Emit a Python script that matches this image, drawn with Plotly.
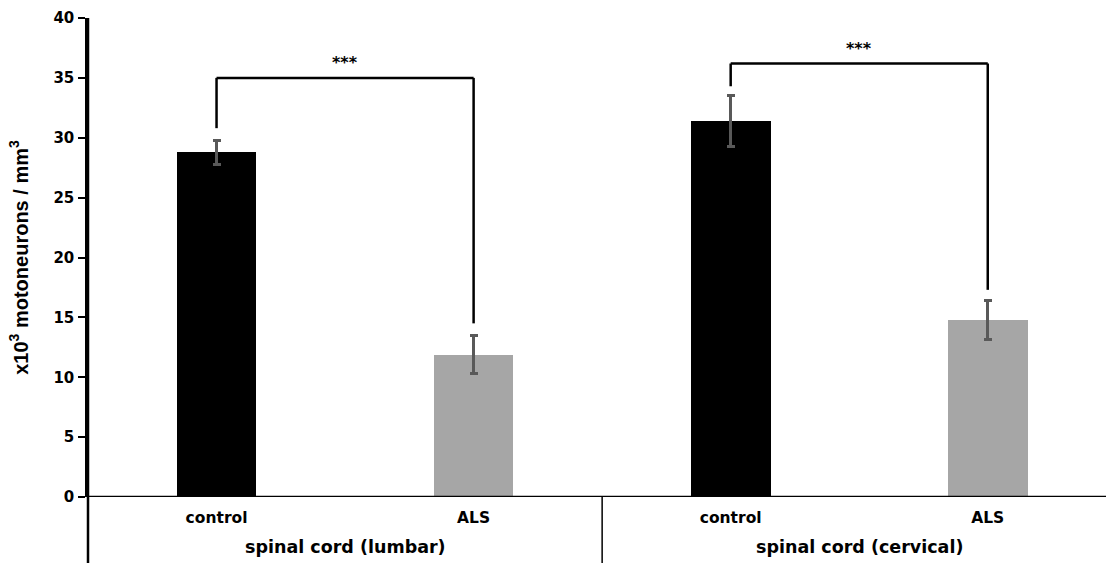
import plotly.graph_objects as go

categories = ["control", "ALS", "control", "ALS"]
groups = ["spinal cord (lumbar)", "spinal cord (cervical)"]
values = [28.8, 11.9, 31.4, 14.8]
errors = [1.0, 1.6, 2.1, 1.65]
bar_colors = ["#000000", "#a6a6a6", "#000000", "#a6a6a6"]
y_ticks = [0, 5, 10, 15, 20, 25, 30, 35, 40]

# significance brackets: (x_left, x_right, y_top, y_left_end, y_right_end, label)
brackets = [
    (0, 1, 35.0, 30.8, 14.5, "***"),
    (2, 3, 36.2, 34.3, 17.3, "***"),
]

W, H = 1106, 563
ml, mr, mt, mb = 88, 0, 18, 66
plot_h = H - mt - mb
below = mb / plot_h

FONT_H = "DejaVu Sans, sans-serif"
FONT_V = "Arial, Liberation Sans, sans-serif"

xpos = list(range(len(categories)))
fig = go.Figure()
fig.add_trace(go.Bar(
    x=xpos, y=values, width=0.31,
    marker=dict(color=bar_colors, line=dict(width=0)),
    error_y=dict(type="data", array=errors, visible=True,
                 color="#595959", thickness=3, width=4),
))

shapes = []
annotations = []
for xl, xr, yt, yl, yr, lab in brackets:
    shapes.append(dict(type="line", xref="x", yref="y", x0=xl, x1=xl, y0=yl, y1=yt,
                       line=dict(color="black", width=2.5)))
    shapes.append(dict(type="line", xref="x", yref="y", x0=xl, x1=xr, y0=yt, y1=yt,
                       line=dict(color="black", width=2.5)))
    shapes.append(dict(type="line", xref="x", yref="y", x0=xr, x1=xr, y0=yr, y1=yt,
                       line=dict(color="black", width=2.5)))
    annotations.append(dict(x=(xl + xr) / 2, y=yt, xref="x", yref="y", text="<b>" + lab + "</b>",
                            showarrow=False, yshift=15, font=dict(family=FONT_H, size=16, color="black")))

# axis extensions below zero and group separator
shapes.append(dict(type="line", xref="paper", yref="paper", x0=0, x1=0, y0=-below, y1=1,
                   line=dict(color="black", width=2.5)))
shapes.append(dict(type="line", xref="paper", yref="y", x0=0, x1=1, y0=0, y1=0,
                   line=dict(color="black", width=2.5)))
shapes.append(dict(type="line", xref="x", yref="paper", x0=1.5, x1=1.5, y0=-below, y1=0,
                   line=dict(color="black", width=1.5)))

for gi, g in enumerate(groups):
    annotations.append(dict(x=gi * 2 + 0.5, y=0, xref="x", yref="paper", text="<b>" + g + "</b>",
                            showarrow=False, yanchor="middle", xanchor="center", yshift=-50,
                            font=dict(family=FONT_H, size=17.5, color="black")))

fig.update_layout(
    width=W, height=H,
    margin=dict(l=ml, r=mr, t=mt, b=mb, pad=0),
    plot_bgcolor="white", paper_bgcolor="white",
    showlegend=False,
    shapes=shapes, annotations=annotations,
    bargap=0,
    xaxis=dict(range=[-0.5, 3.46], tickvals=xpos,
               ticktext=["<b>" + c + "</b>" for c in categories],
               tickfont=dict(family=FONT_H, size=15.5, color="black"),
               showgrid=False, zeroline=False, showline=False, ticks="",
               ticklabelstandoff=9),
    yaxis=dict(range=[0, 40], tickvals=y_ticks,
               ticktext=["<b>%d</b>" % v for v in y_ticks],
               tickfont=dict(family=FONT_H, size=15, color="black"),
               showgrid=False, zeroline=False, showline=True, linecolor="black", linewidth=2.5,
               ticks="outside", ticklen=7, tickwidth=2, tickcolor="black",
               ticklabelstandoff=1,
               title=dict(text="<b>x10<sup>3</sup> motoneurons / mm<sup>3</sup></b>",
                          font=dict(family=FONT_V, size=20, color="black"), standoff=20)),
)

fig.write_html("out.html")
